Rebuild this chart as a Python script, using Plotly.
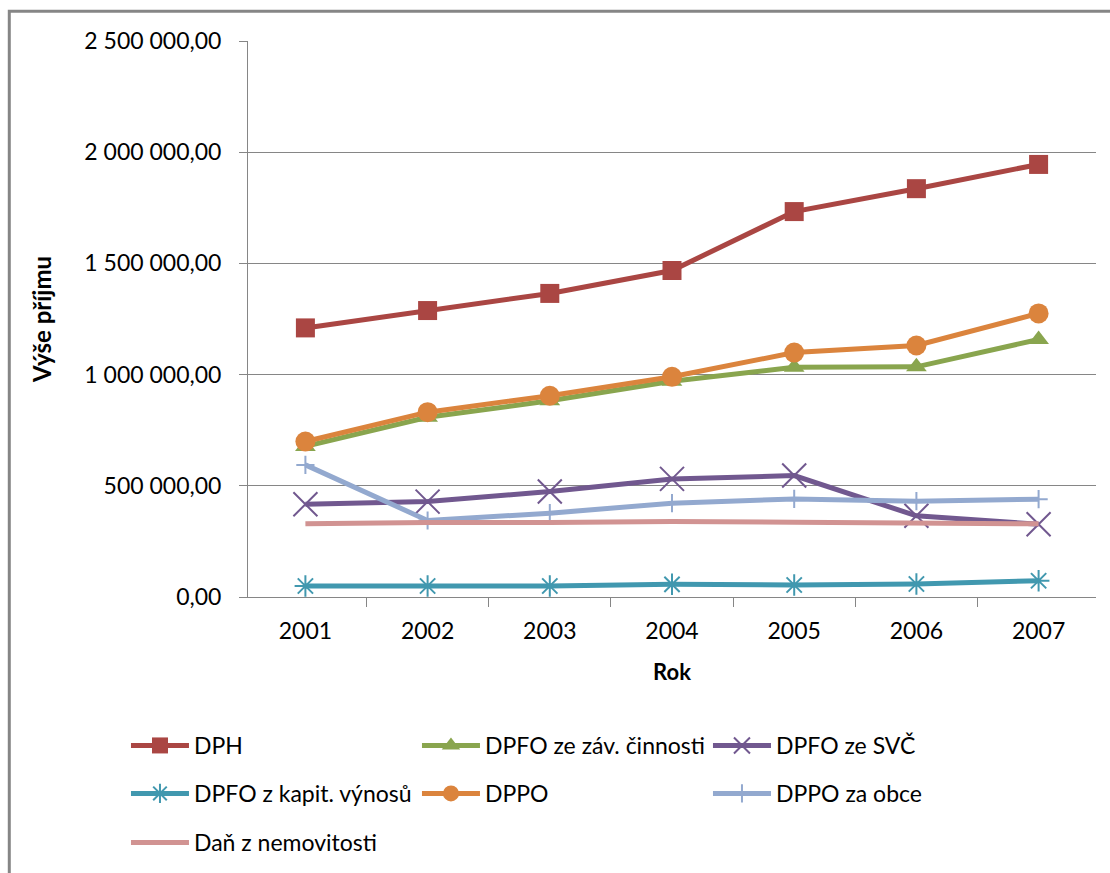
import plotly.graph_objects as go

# Tax revenue by year (Výše příjmu)
years = ["2001", "2002", "2003", "2004", "2005", "2006", "2007"]

dph = [1210000, 1288000, 1365000, 1468000, 1733000, 1836000, 1945000]
dpfo_zav = [677000, 808000, 882000, 970000, 1033000, 1035000, 1158000]
dpfo_svc = [417000, 429000, 474000, 531000, 546000, 365000, 327000]
dpfo_kap = [49500, 49500, 49500, 57000, 54000, 58500, 73000]
dppo = [699000, 831000, 905000, 990000, 1099000, 1131000, 1275000]
dppo_obce = [594000, 344000, 377000, 422000, 441000, 431000, 440000]
dan_nem = [329000, 335000, 335000, 339000, 336000, 334000, 329000]

y_ticks = [0, 500000, 1000000, 1500000, 2000000, 2500000]

# name, values, colour, marker, legend row
series = [
    ("DPH", dph, "#AA4643", dict(symbol="square", size=19), "legend"),
    ("DPFO ze záv. činnosti", dpfo_zav, "#89A54E", dict(symbol="triangle-up", size=18), "legend"),
    ("DPFO ze SVČ", dpfo_svc, "#71588F",
     dict(symbol="x-thin", size=24, line=dict(width=2, color="#71588F")), "legend"),
    ("DPFO z kapit. výnosů", dpfo_kap, "#4198AF",
     dict(symbol="asterisk", size=18, line=dict(width=2, color="#4198AF")), "legend2"),
    ("DPPO", dppo, "#DB843D", dict(symbol="circle", size=20), "legend2"),
    ("DPPO za obce", dppo_obce, "#93A9CF",
     dict(symbol="cross-thin", size=13, line=dict(width=2, color="#93A9CF")), "legend2"),
    ("Daň z nemovitosti", dan_nem, "#D19392", None, "legend3"),
]

fig = go.Figure()
for name, vals, color, marker, leg in series:
    if marker is None:
        fig.add_trace(go.Scatter(x=years, y=vals, name=name, mode="lines", legend=leg,
                                 line=dict(color=color, width=5)))
    else:
        m = dict(color=color)
        m.update(marker)
        fig.add_trace(go.Scatter(x=years, y=vals, name=name, mode="lines+markers", legend=leg,
                                 line=dict(color=color, width=5), marker=m))

axis_grey = "#868686"
font_family = "Lato"

fig.update_xaxes(
    type="category",
    showline=True, linecolor=axis_grey, linewidth=1,
    ticks="outside", ticklen=9, tickcolor=axis_grey, tickwidth=1,
    tickson="boundaries",
    showgrid=False,
    tickfont=dict(family=font_family, size=23, color="black"),
    ticklabelstandoff=13,
    title=dict(text="<b>Rok</b>", font=dict(family=font_family, size=22, color="black"), standoff=22),
)
fig.update_yaxes(
    range=[0, 2500000],
    tickvals=y_ticks, tickformat=",.2f",
    showline=True, linecolor=axis_grey, linewidth=1,
    ticks="outside", ticklen=8, tickcolor=axis_grey, tickwidth=1,
    showgrid=True, gridcolor=axis_grey, gridwidth=1,
    zeroline=False,
    tickfont=dict(family=font_family, size=23, color="black"),
    ticklabelstandoff=13,
    title=dict(text="<b>Výše příjmu</b>", font=dict(family=font_family, size=24, color="black"), standoff=25),
)


def legend_row(y):
    return dict(
        orientation="h", x=-0.1439, xanchor="left", y=y, yanchor="top",
        itemwidth=58, entrywidth=218, entrywidthmode="pixels",
        font=dict(family=font_family, size=23, color="black"),
        bgcolor="rgba(0,0,0,0)", tracegroupgap=0,
    )


fig.update_layout(
    width=1110, height=873, autosize=False,
    margin=dict(l=248, r=14, t=41, b=276, autoexpand=False),
    paper_bgcolor="white", plot_bgcolor="white",
    separators=", ",
    font=dict(family=font_family, size=23, color="black"),
    showlegend=True,
    legend=legend_row(-0.2284),
    legend2=legend_row(-0.3147),
    legend3=legend_row(-0.4029),
    shapes=[dict(type="rect", xref="paper", yref="paper",
                 x0=-0.2815, x1=1.03, y0=-0.52, y1=1.0535,
                 line=dict(color=axis_grey, width=3), fillcolor="rgba(0,0,0,0)",
                 layer="below")],
)

fig.write_html("out.html", config={"displayModeBar": False})
